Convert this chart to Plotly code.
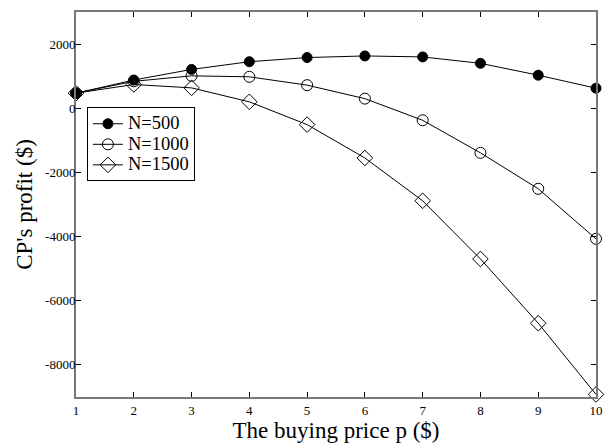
import plotly.graph_objects as go

price = [1, 2, 3, 4, 5, 6, 7, 8, 9, 10]
profit_n500 = [470, 880, 1210, 1450, 1580, 1630, 1600, 1400, 1030, 625]
profit_n1000 = [470, 840, 1010, 980, 720, 300, -375, -1390, -2510, -4070]
profit_n1500 = [470, 740, 635, 200, -510, -1550, -2885, -4698, -6700, -8920]
series_names = ["N=500", "N=1000", "N=1500"]
x_ticks = [1, 2, 3, 4, 5, 6, 7, 8, 9, 10]
y_ticks = [-8000, -6000, -4000, -2000, 0, 2000]
y_tick_text = ["-8000", "-6000", "-4000", "-2000", "0", "2000"]

FONT = "Liberation Serif, Times New Roman, serif"


def legend_label(name):
    return '<span style="font-size:18.5px">' + name + '</span>'


fig = go.Figure()
fig.add_trace(go.Scatter(
    x=price, y=profit_n500, name=legend_label(series_names[0]), mode="lines+markers", cliponaxis=False,
    line=dict(color="black", width=1),
    marker=dict(symbol="circle", size=10, color="black", line=dict(color="black", width=1))))
fig.add_trace(go.Scatter(
    x=price, y=profit_n1000, name=legend_label(series_names[1]), mode="lines+markers", cliponaxis=False,
    line=dict(color="black", width=1),
    marker=dict(symbol="circle-open", size=11, color="black", line=dict(color="black", width=1))))
fig.add_trace(go.Scatter(
    x=price, y=profit_n1500, name=legend_label(series_names[2]), mode="lines+markers", cliponaxis=False,
    line=dict(color="black", width=1),
    marker=dict(symbol="diamond-open", size=12, color="black", line=dict(color="black", width=1))))

# page body has an 8px margin; figure is sized so the plot area lands where the reference has it
fig.update_layout(
    width=605, height=437,
    margin=dict(l=68, r=17, t=4, b=48),
    paper_bgcolor="white", plot_bgcolor="white",
    font=dict(family=FONT, color="black"),
    showlegend=True,
    legend=dict(x=0.021, y=0.752, xanchor="left", yanchor="top",
                bgcolor="white", bordercolor="black", borderwidth=1,
                font=dict(family=FONT, size=13.5, color="black"),
                tracegroupgap=0, itemwidth=30),
    xaxis=dict(range=[1, 10], tickvals=x_ticks, ticks="inside", ticklen=5,
               tickcolor="black", showline=True, linecolor="#777777", linewidth=2,
               mirror="ticks", showgrid=False, zeroline=False, automargin=False,
               tickfont=dict(family=FONT, size=13, color="black"),
               title=dict(text="The buying price p ($)", font=dict(family=FONT, size=23, color="black"), standoff=4)),
    yaxis=dict(range=[-9000, 3000], tickvals=y_ticks, ticktext=y_tick_text, ticks="inside", ticklen=5,
               tickcolor="black", showline=True, linecolor="#777777", linewidth=2,
               mirror="ticks", showgrid=False, zeroline=False, automargin=False,
               ticklabelstandoff=-4,
               tickfont=dict(family=FONT, size=13, color="black"),
               title=dict(text="CP's profit ($)", font=dict(family=FONT, size=23, color="black"), standoff=6)),
)

fig.write_html("out.html")
